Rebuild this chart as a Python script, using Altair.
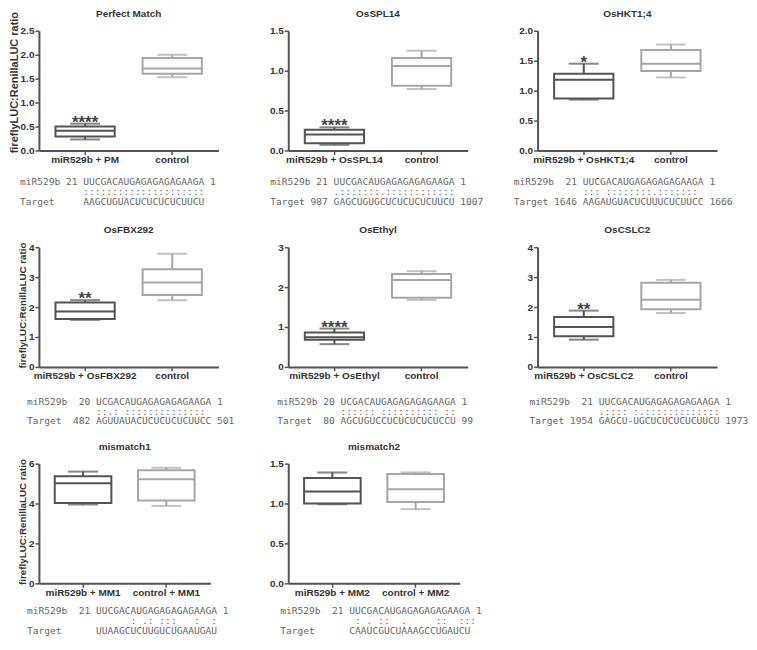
import altair as alt
import pandas as pd
import numpy as np

titles = ["Perfect Match", "OsSPL14", "OsHKT1;4", "OsFBX292", "OsEthyl", "OsCSLC2", "mismatch1", "mismatch2"]
treat_labels = ["miR529b + PM", "miR529b + OsSPL14", "miR529b + OsHKT1;4", "miR529b + OsFBX292",
                "miR529b + OsEthyl", "miR529b + OsCSLC2", "miR529b + MM1", "miR529b + MM2"]
ctrl_labels = ["control", "control", "control", "control", "control", "control", "control + MM1", "control + MM2"]
y_max = [2.5, 1.5, 2.0, 4, 3, 4, 6, 1.5]
y_step = [0.5, 0.5, 0.5, 1, 1, 1, 2, 0.5]

treat_min = [0.23, 0.07, 0.85, 1.57, 0.57, 0.91, 3.95, 0.99]
treat_q1 = [0.29, 0.09, 0.87, 1.60, 0.68, 1.02, 4.03, 1.00]
treat_med = [0.41, 0.20, 1.18, 1.85, 0.74, 1.33, 5.02, 1.15]
treat_q3 = [0.50, 0.26, 1.28, 2.15, 0.86, 1.67, 5.37, 1.32]
treat_max = [0.56, 0.29, 1.45, 2.23, 0.96, 1.88, 5.60, 1.39]

ctrl_min = [1.53, 0.77, 1.22, 2.23, 1.68, 1.80, 3.88, 0.93]
ctrl_q1 = [1.60, 0.81, 1.33, 2.40, 1.73, 1.93, 4.15, 1.02]
ctrl_med = [1.71, 1.06, 1.45, 2.82, 2.18, 2.24, 5.22, 1.18]
ctrl_q3 = [1.93, 1.16, 1.68, 3.26, 2.33, 2.81, 5.67, 1.37]
ctrl_max = [2.00, 1.25, 1.77, 3.78, 2.40, 2.91, 5.79, 1.39]

stars = ["****", "****", "*", "**", "****", "**", "", ""]

align_mir = [
    "miR529b 21 UUCGACAUGAGAGAGAGAAGA 1",
    "miR529b 21 UUCGACAUGAGAGAGAGAAGA 1",
    "miR529b  21 UUCGACAUGAGAGAGAGAAGA 1",
    "miR529b  20 UCGACAUGAGAGAGAGAAGA 1",
    "miR529b 20 UCGACAUGAGAGAGAGAAGA 1",
    "miR529b  21 UUCGACAUGAGAGAGAGAAGA 1",
    "miR529b  21 UUCGACAUGAGAGAGAGAAGA 1",
    "miR529b  21 UUCGACAUGAGAGAGAGAAGA 1",
]
align_bars = [
    "           :::::::::::::::::::::",
    "           .:::::::.::::::::::::",
    "            ::: ::::::::.:::::::",
    "            ::.: ::::::::::::::",
    "           :::::: :::::::::: ::",
    "            .:::: :.:::::::::::::",
    "                  : .: :::   :  :",
    "             : . ::  .     ::  :::",
]
align_target = [
    "Target     AAGCUGUACUCUCUCUCUUCU",
    "Target 987 GAGCUGUGCUCUCUCUCUUCU 1007",
    "Target 1646 AAGAUGUACUCUUUCUCUUCC 1666",
    "Target  482 AGUUAUACUCUCUCUCUUCC 501",
    "Target  80 AGCUGUCCUCUCUCUCUCCU 99",
    "Target 1954 GAGCU-UGCUCUCUCUCUUCU 1973",
    "Target      UUAAGCUCUUGUCUGAAUGAU",
    "Target      CAAUCGUCUAAAGCCUGAUCU",
]

text_x = [-19, -18, -24, -12, -11, -8, -12, -8]
text_y = [32, 32, 32, 35, 35, 35, 28, 28]
widths = [180, 180, 180, 180, 180, 180, 172, 172]
ytitle_size = [11, 0, 0, 9.8, 0, 0, 9.8, 0]
ytitle_shift = [-8.5, 0, 0, -2, 0, 0, -2, 0]
H = 120

DARK = "#535353"
LIGHT = "#a6a6a6"
FONT = "Liberation Sans"
MONO = "DejaVu Sans Mono, monospace"


def panel(i):
    df = pd.DataFrame({
        "label": [treat_labels[i], ctrl_labels[i]],
        "grp": ["t", "c"],
        "lo": [treat_min[i], ctrl_min[i]],
        "q1": [treat_q1[i], ctrl_q1[i]],
        "med": [treat_med[i], ctrl_med[i]],
        "q3": [treat_q3[i], ctrl_q3[i]],
        "hi": [treat_max[i], ctrl_max[i]],
        "star": [stars[i], ""],
    })
    ticks = [round(float(v), 2) for v in np.arange(0, y_max[i] + 1e-9, y_step[i])]
    yaxis_kw = dict(values=ticks, tickCount=len(ticks), format=".1f" if y_step[i] < 1 else "d",
                    grid=False, labelPadding=1)
    if i % 3 == 0:
        yaxis_kw.update(title="fireflyLUC:RenillaLUC ratio", titleFont=FONT, titleFontSize=ytitle_size[i],
                        titleFontWeight="bold", titleColor="#333333", titlePadding=1,
                        titleY=H / 2 + ytitle_shift[i])
    else:
        yaxis_kw.update(title=None)
    x = alt.X("label:N", sort=[treat_labels[i], ctrl_labels[i]],
              scale=alt.Scale(paddingInner=0.32, paddingOuter=0.19),
              axis=alt.Axis(title=None, labelAngle=0, labelPadding=0))
    yscale = alt.Scale(domain=[0, y_max[i]], nice=False, zero=True)
    col_scale = alt.Scale(domain=["t", "c"], range=[DARK, LIGHT])
    base = alt.Chart(df).encode(x=x)
    whisk = base.mark_rule(strokeWidth=2).encode(
        y=alt.Y("lo:Q", scale=yscale, axis=alt.Axis(**yaxis_kw)), y2="hi:Q",
        color=alt.Color("grp:N", scale=col_scale, legend=None))
    caps_lo = base.mark_tick(size=30, thickness=2, orient="horizontal").encode(
        y="lo:Q", color=alt.Color("grp:N", scale=col_scale, legend=None))
    caps_hi = base.mark_tick(size=30, thickness=2, orient="horizontal").encode(
        y="hi:Q", color=alt.Color("grp:N", scale=col_scale, legend=None))
    box = base.mark_bar(fill="white", strokeWidth=2).encode(
        y="q1:Q", y2="q3:Q", stroke=alt.Stroke("grp:N", scale=col_scale, legend=None))
    med = base.mark_bar(fill="white", strokeWidth=2).encode(
        y="med:Q", y2="med:Q", stroke=alt.Stroke("grp:N", scale=col_scale, legend=None))
    star = base.mark_text(font=FONT, fontSize=17, fontWeight="bold", color="#444444",
                          baseline="alphabetic", dy=4).encode(y="hi:Q", text="star:N")
    one = pd.DataFrame({"k": [0]})
    lines = ["\u200b" + s.replace(" ", "\u00a0") for s in (align_mir[i], align_bars[i], align_target[i])]
    txt = alt.Chart(one).mark_text(
        font=MONO, fontSize=9.6, color="#666666", align="left",
        baseline="middle", lineHeight=9.8).encode(
        x=alt.value(text_x[i]), y=alt.value(H + text_y[i]), text=alt.value(lines))
    ttl = alt.Chart(one).mark_text(
        font=FONT, fontSize=10, fontWeight="bold", color="#333333", align="center",
        baseline="middle").encode(
        x=alt.value(widths[i] / 2), y=alt.value(-17), text=alt.value(titles[i]))
    return alt.layer(whisk, caps_lo, caps_hi, box, med, star, txt, ttl).properties(
        width=widths[i], height=H)


chart = alt.concat(*[panel(i) for i in range(8)], columns=3,
                   spacing={"row": 97, "column": 70}, bounds="flush").properties(
    padding=0
).configure_view(stroke=None).configure_axis(
    domainColor=DARK, domainWidth=2, tickColor=DARK, tickWidth=1.5, tickSize=4,
    labelFont=FONT, labelFontSize=10, labelFontWeight="bold", labelColor="#333333"
)

chart.save("out.html", embed_options={"renderer": "svg", "actions": False})
